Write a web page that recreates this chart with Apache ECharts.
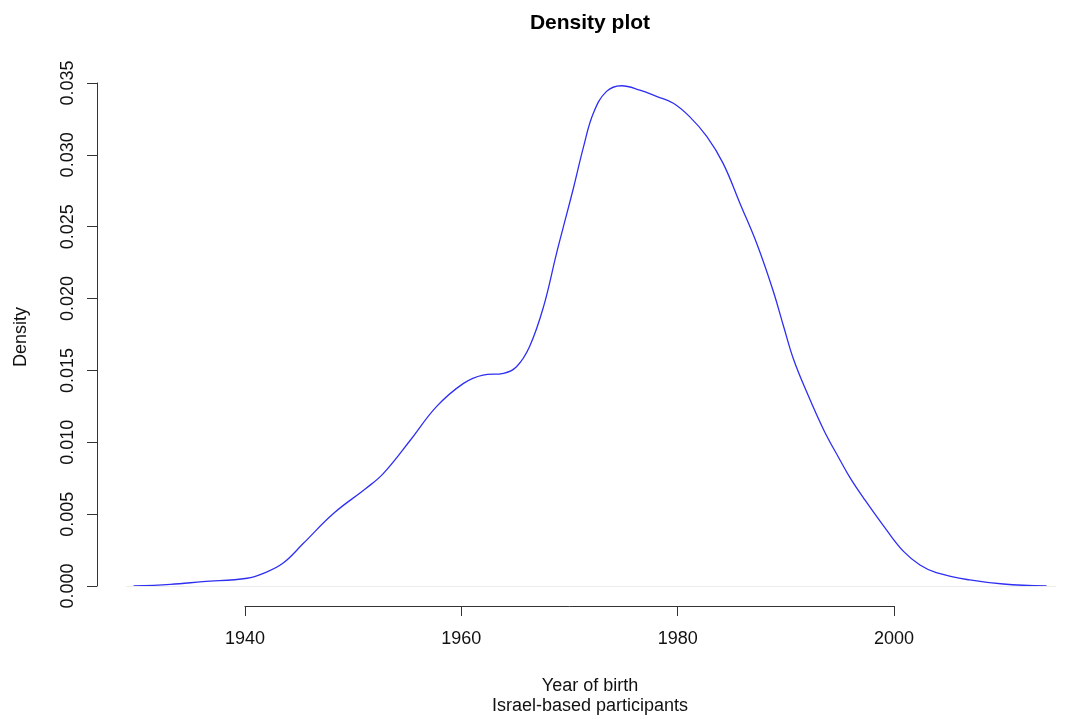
<!DOCTYPE html>
<html>
<head>
<meta charset="utf-8">
<script src="https://cdn.jsdelivr.net/npm/echarts@6/dist/echarts.min.js"></script>
<style>
html,body{margin:0;padding:0;background:#fff;}
#chart{width:1075px;height:718px;}
</style>
</head>
<body>
<div id="chart"></div>
<script>
// Data
var years = [1929.7,1933.1,1936.1,1940.2,1941.7,1943.5,1945.4,1948.2,1951.2,1952.8,1955.3,1957.7,1960.2,1962.0,1963.9,1965.1,1966.3,1967.6,1968.8,1969.6,1970.4,1971.3,1972.2,1973.4,1974.8,1976.5,1978.1,1979.6,1981.1,1982.7,1984.2,1985.8,1987.3,1988.8,1989.8,1990.7,1991.9,1993.5,1995.0,1996.0,1997.2,1999.3,2000.9,2002.4,2003.9,2007.0,2010.1,2014.1];
var density = [0,0.00012,0.0003,0.00054,0.00088,0.00158,0.00297,0.00506,0.0068,0.00784,0.01016,0.01248,0.0141,0.01468,0.0148,0.01526,0.01665,0.01944,0.02315,0.02547,0.0278,0.03057,0.03289,0.0344,0.03481,0.03451,0.03405,0.03359,0.03266,0.03127,0.02941,0.02655,0.02385,0.0206,0.01804,0.0158,0.01355,0.01086,0.00877,0.00745,0.0061,0.0039,0.00239,0.00146,0.00093,0.00042,0.00014,0];
var xTickMin = 1940, xTickMax = 2000, xTickStep = 20;
var yTickMin = 0, yTickMax = 0.035, yTickStep = 0.005;
var titleText = 'Density plot';
var xLabel = 'Year of birth';
var subLabel = 'Israel-based participants';
var yLabel = 'Density';

var points = years.map(function (y, i) { return [y, density[i]]; });
var FONT = '"Liberation Sans", Arial, Helvetica, sans-serif';

var chart = echarts.init(document.getElementById('chart'), null, {renderer: 'canvas'});
chart.setOption({
  backgroundColor: '#ffffff',
  animation: false,
  grid: [
    {left: 126.0, width: 930.3, top: 68.63, height: 517.37},
    {left: 245, width: 649, top: 605, height: 1},
    {left: 97, width: 1, top: 83, height: 503}
  ],
  xAxis: [
    {gridIndex: 0, type: 'value', min: 1929, max: 2015, show: false},
    {gridIndex: 1, type: 'value', min: xTickMin, max: xTickMax, interval: xTickStep, position: 'bottom',
      axisLine: {show: true, lineStyle: {color: '#333', width: 1}},
      axisTick: {show: true, inside: false, length: 10, lineStyle: {color: '#333', width: 1}},
      axisLabel: {show: true, margin: 24, color: '#111', fontSize: 18, fontFamily: FONT,
        formatter: function (v) { return String(v); }},
      splitLine: {show: false}},
    {gridIndex: 2, type: 'value', show: false, min: 0, max: 1}
  ],
  yAxis: [
    {gridIndex: 0, type: 'value', min: 0, max: 0.036, show: false},
    {gridIndex: 1, type: 'value', show: false, min: 0, max: 1},
    {gridIndex: 2, type: 'value', min: yTickMin, max: yTickMax, interval: yTickStep, position: 'left',
      axisLine: {show: true, lineStyle: {color: '#333', width: 1}},
      axisTick: {show: true, inside: false, length: 10, lineStyle: {color: '#333', width: 1}},
      axisLabel: {show: true, rotate: 90, margin: 20, color: '#111', fontSize: 18, fontFamily: FONT,
        formatter: function (v) { return v.toFixed(3); }},
      splitLine: {show: false}}
  ],
  graphic: [
    {type: 'text', x: 590, y: 23, style: {text: titleText, fill: '#000', font: 'bold 21px ' + FONT, textAlign: 'center', textVerticalAlign: 'middle'}},
    {type: 'text', x: 590, y: 686, style: {text: xLabel, fill: '#111', font: '18px ' + FONT, textAlign: 'center', textVerticalAlign: 'middle'}},
    {type: 'text', x: 590, y: 706, style: {text: subLabel, fill: '#111', font: '18px ' + FONT, textAlign: 'center', textVerticalAlign: 'middle'}},
    {type: 'text', x: 21, y: 337, rotation: Math.PI / 2, style: {text: yLabel, fill: '#111', font: '18px ' + FONT, textAlign: 'center', textVerticalAlign: 'middle'}}
  ],
  series: [{
    type: 'line',
    xAxisIndex: 0, yAxisIndex: 0,
    data: points,
    showSymbol: false,
    smooth: 0.4,
    lineStyle: {color: '#2f2ff2', width: 1.3},
    silent: true,
    markLine: {
      silent: true, symbol: 'none', label: {show: false},
      lineStyle: {color: '#ececec', width: 1, type: 'solid'},
      data: [{yAxis: 0}]
    },
    z: 3
  }]
});
</script>
</body>
</html>
